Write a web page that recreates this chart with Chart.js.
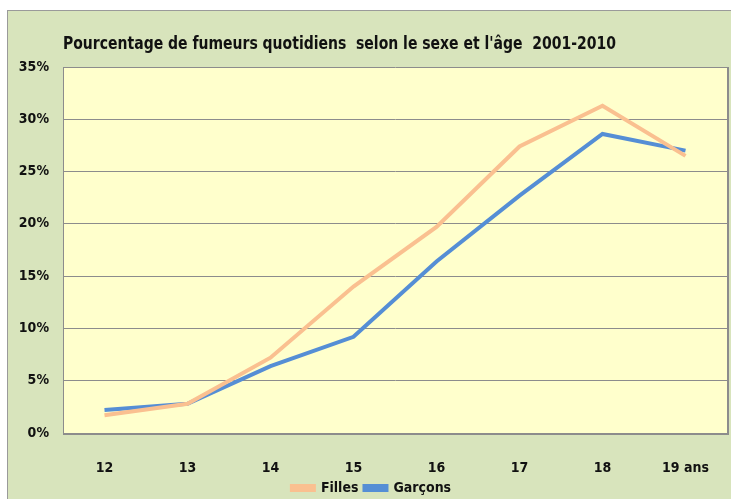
<!DOCTYPE html>
<html>
<head>
<meta charset="utf-8">
<script src="https://cdn.jsdelivr.net/npm/chart.js@4.4.1/dist/chart.umd.min.js"></script>
<style>
    html, body { margin: 0; padding: 0; background: #ffffff; }
    #box {
        position: absolute;
        left: 7px;
        top: 10px;
        width: 724px;
        height: 489px;
        background: #d8e4bc;
        border-left: 1px solid #9a9a9a;
        border-top: 1px solid #9a9a9a;
        box-sizing: border-box;
        overflow: hidden;
    }
    canvas { display: block; }
</style>
</head>
<body>
<div id="box"><canvas id="smokersChart" width="728" height="494"></canvas></div>
<script>
// Data
const ages = ['12', '13', '14', '15', '16', '17', '18', '19 ans'];
const filles = [1.7, 2.8, 7.2, 14.0, 19.7, 27.4, 31.3, 26.5];
const garcons = [2.2, 2.8, 6.4, 9.2, 16.4, 22.7, 28.6, 27.0];
const yTicks = [0, 5, 10, 15, 20, 25, 30, 35];

const titleText = "Pourcentage de fumeurs quotidiens  selon le sexe et l'âge  2001-2010";
const fontFamily = "'Liberation Sans Narrow', 'DejaVu Sans Condensed', sans-serif";

// Yellow plot area + left aligned title + right shadow edge
const plotDecor = {
    id: 'plotDecor',
    beforeDraw(chart) {
        const { ctx, chartArea } = chart;
        ctx.save();
        ctx.fillStyle = '#ffffcc';
        ctx.fillRect(chartArea.left, chartArea.top, chartArea.right - chartArea.left, chartArea.bottom - chartArea.top);
        ctx.restore();
    },
    afterDraw(chart) {
        const { ctx, chartArea } = chart;
        ctx.save();
        ctx.strokeStyle = '#8c8c8c';
        ctx.lineWidth = 2;
        ctx.beginPath();
        ctx.moveTo(chartArea.right + 1, chartArea.top);
        ctx.lineTo(chartArea.right + 1, chartArea.bottom + 1);
        ctx.lineTo(chartArea.left, chartArea.bottom + 1);
        ctx.stroke();
        // condensed look for the title, like the original
        ctx.fillStyle = '#111111';
        ctx.font = 'bold 18px ' + fontFamily;
        ctx.textBaseline = 'middle';
        ctx.textAlign = 'left';
        const w = ctx.measureText(titleText).width;
        const sx = 553 / w;
        ctx.translate(chartArea.left, 33);
        ctx.scale(sx, 1);
        ctx.fillText(titleText, 0, 0);
        ctx.restore();
    }
};

new Chart(document.getElementById('smokersChart'), {
    type: 'line',
    data: {
        labels: ages,
        datasets: [{
            label: 'Filles',
            data: filles,
            borderColor: '#fac090',
            backgroundColor: '#fac090',
            borderWidth: 4,
            pointRadius: 0,
            tension: 0
        }, {
            label: 'Garçons',
            data: garcons,
            borderColor: '#558ed5',
            backgroundColor: '#558ed5',
            borderWidth: 4,
            pointRadius: 0,
            tension: 0
        }]
    },
    options: {
        responsive: false,
        animation: false,
        layout: {
            padding: { top: 56, right: 1, left: 0, bottom: 0 }
        },
        scales: {
            x: {
                offset: true,
                afterFit: (scale) => { scale.height = 42; },
                grid: { display: false, drawTicks: false },
                border: { display: true, color: '#8c8c8c', width: 1 },
                ticks: {
                    color: '#111111',
                    padding: 27,
                    maxRotation: 0,
                    font: { family: fontFamily, size: 14, weight: 'bold' }
                }
            },
            y: {
                min: 0,
                max: 35,
                afterFit: (scale) => { scale.width = 55; },
                afterBuildTicks: (scale) => {
                    scale.ticks = yTicks.map(v => ({ value: v }));
                },
                grid: { color: '#8c8c8c', drawTicks: false },
                border: { display: true, color: '#8c8c8c', width: 1 },
                ticks: {
                    color: '#111111',
                    padding: 14,
                    callback: (v) => v + '%',
                    font: { family: fontFamily, size: 14, weight: 'bold' }
                }
            }
        },
        plugins: {
            title: { display: false },
            tooltip: { enabled: false },
            legend: {
                position: 'bottom',
                labels: {
                    color: '#111111',
                    boxWidth: 22,
                    boxHeight: 4,
                    padding: 6,
                    font: { family: fontFamily, size: 14, weight: 'bold' }
                }
            }
        }
    },
    plugins: [plotDecor]
});
</script>
</body>
</html>
